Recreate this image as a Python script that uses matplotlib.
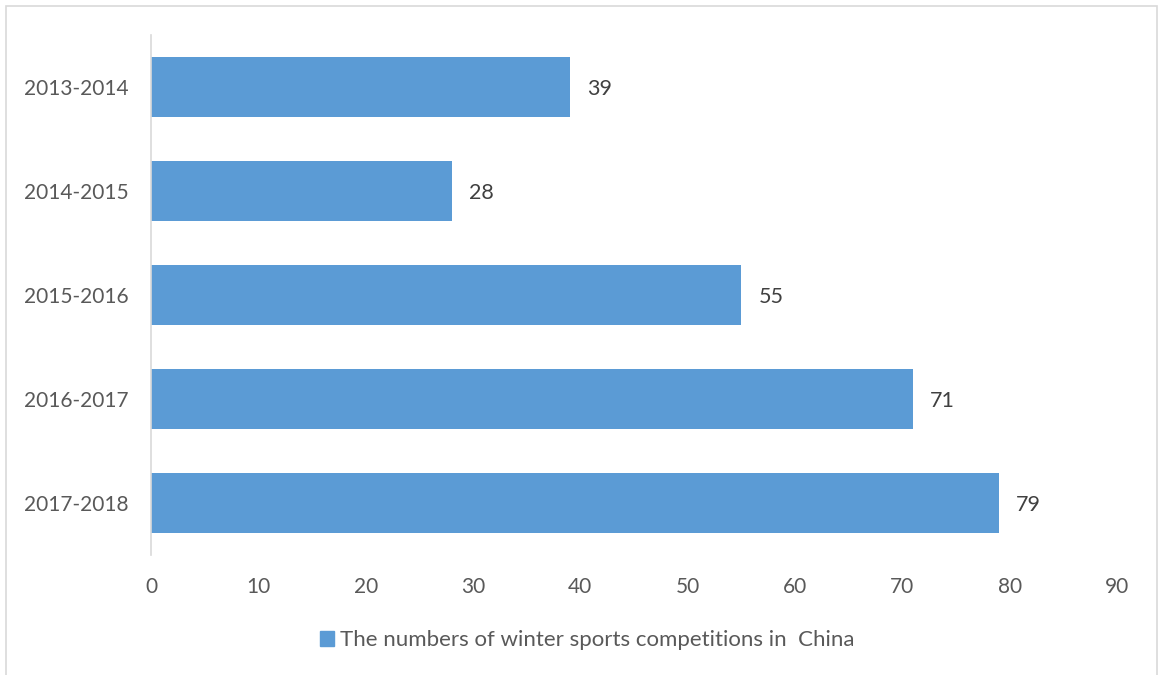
import matplotlib.pyplot as plt
import matplotlib.patches as mpatches

# data
seasons = ["2013-2014", "2014-2015", "2015-2016", "2016-2017", "2017-2018"]
competitions = [39, 28, 55, 71, 79]

BAR_COLOR = "#5B9BD5"
TEXT_COLOR = "#595959"

plt.rcParams["font.family"] = ["Lato", "DejaVu Sans"]

fig = plt.figure(figsize=(11.6, 6.75), dpi=100)
ax = fig.add_axes([0.1302, 0.1778, 0.8327, 0.7704])

# chart border (light gray frame like Excel)
fig.patches.append(mpatches.Rectangle((6 / 1160, -0.01), 1151 / 1160, 1 - 6 / 675 + 0.01,
                                      transform=fig.transFigure, fill=False,
                                      edgecolor="#D9D9D9", linewidth=1.2))

y = range(len(seasons))
bars = ax.barh(y, competitions, height=0.58, color=BAR_COLOR)
for b, v in zip(bars, competitions):
    ax.text(b.get_width() + 1.6, b.get_y() + b.get_height() / 2, str(v),
            va="center_baseline", ha="left", fontsize=15.5, color="#404040")

ax.set_yticks(list(y))
ax.set_yticklabels(seasons)
ax.set_ylim(4.5, -0.5)
ax.set_xlim(0, 90)
ax.set_xticks(range(0, 91, 10))

for s in ["top", "right", "bottom"]:
    ax.spines[s].set_visible(False)
ax.spines["left"].set_color("#D9D9D9")
ax.spines["left"].set_linewidth(1.2)
ax.tick_params(axis="both", length=0, labelsize=15, labelcolor=TEXT_COLOR)
ax.tick_params(axis="y", pad=16)
ax.tick_params(axis="x", pad=16)

handle = mpatches.Patch(color=BAR_COLOR, label="The numbers of winter sports competitions in  China")
fig.legend(handles=[handle], loc="center", bbox_to_anchor=(0.506, 0.052), frameon=False,
           fontsize=16, labelcolor=TEXT_COLOR, handlelength=0.65, handleheight=0.65,
           handletextpad=0.25)

fig.savefig("out.png", dpi=100)
